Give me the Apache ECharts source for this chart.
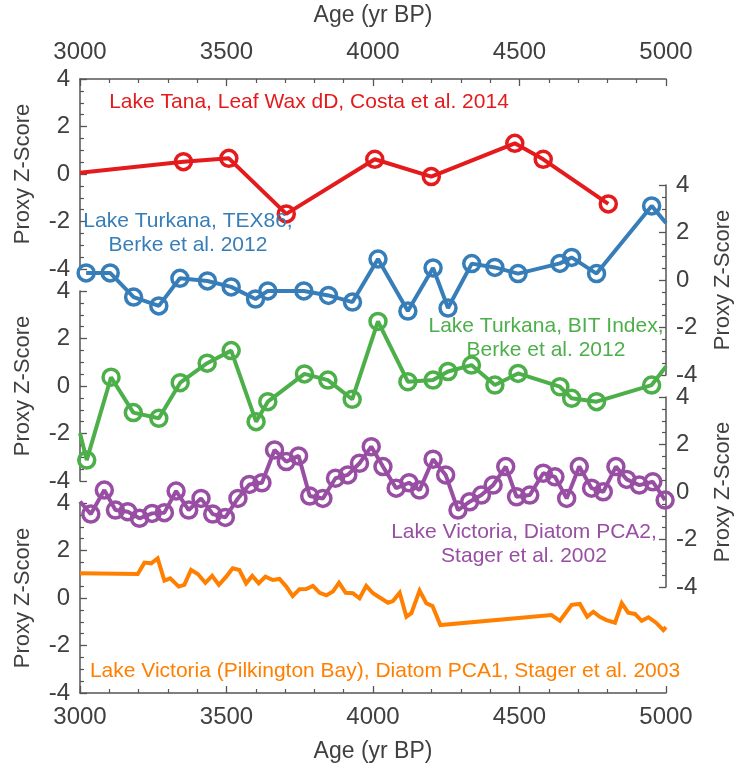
<!DOCTYPE html>
<html><head><meta charset="utf-8">
<script src="https://cdn.jsdelivr.net/npm/echarts@6.0.0/dist/echarts.min.js"></script>
<style>html,body{margin:0;padding:0;background:#fff}#c{width:742px;height:771px}</style>
</head><body><div id="c"></div>
<script>
// ---- data ----
const xTickLabels = [3000, 3500, 4000, 4500, 5000];
const yTickLabels = [-4, -2, 0, 2, 4];
const seriesNames = [
  'Lake Tana, Leaf Wax dD, Costa et al. 2014',
  'Lake Turkana, TEX86,\nBerke et al. 2012',
  'Lake Turkana, BIT Index,\nBerke et al. 2012',
  'Lake Victoria, Diatom PCA2,\nStager et al. 2002',
  'Lake Victoria (Pilkington Bay), Diatom PCA1, Stager et al. 2003'
];
const tanaAge = [3000, 3353, 3508, 3704, 4006, 4199, 4484, 4581, 4803];
const tanaZ = [0.05, 0.52, 0.66, -1.68, 0.62, -0.11, 1.29, 0.62, -1.26];
const tex86Age = [3021, 3103, 3183, 3269, 3341, 3435, 3516, 3599, 3641, 3764, 3848, 3930, 4017, 4119, 4205, 4256, 4337, 4416, 4495, 4638, 4678, 4763, 4951, 5000];
const tex86Z = [0.30, 0.30, -0.72, -1.09, 0.07, -0.04, -0.29, -0.80, -0.46, -0.46, -0.65, -0.93, 0.88, -1.31, 0.51, -1.18, 0.69, 0.53, 0.27, 0.70, 0.95, 0.27, 3.12, 2.40];
const bitAge = [3000, 3023, 3106, 3182, 3269, 3342, 3434, 3516, 3601, 3641, 3766, 3846, 3929, 4017, 4119, 4205, 4256, 4336, 4416, 4495, 4638, 4678, 4763, 4951, 5000];
const bitZ = [-1.99, -3.12, 0.37, -1.12, -1.36, 0.14, 0.96, 1.49, -1.50, -0.66, 0.51, 0.25, -0.56, 2.72, 0.18, 0.25, 0.61, 0.88, 0.04, 0.53, -0.03, -0.52, -0.66, 0.04, 0.82];
const pca2Age = [3000, 3037, 3083, 3121, 3163, 3203, 3246, 3288, 3328, 3371, 3413, 3453, 3496, 3539, 3578, 3621, 3664, 3704, 3746, 3784, 3829, 3872, 3914, 3954, 3994, 4034, 4079, 4123, 4159, 4205, 4248, 4290, 4330, 4370, 4410, 4453, 4490, 4535, 4581, 4621, 4661, 4704, 4746, 4786, 4829, 4866, 4909, 4955, 4997];
const pca2Z = [-0.40, -0.93, 0.08, -0.76, -0.83, -1.11, -0.90, -0.87, 0.04, -0.76, -0.27, -0.93, -1.07, -0.27, 0.32, 0.39, 1.77, 1.28, 1.52, -0.17, -0.27, 0.58, 0.72, 1.21, 1.91, 1.07, 0.16, 0.39, 0.08, 1.38, 0.72, -0.76, -0.41, -0.13, 0.29, 1.07, -0.20, -0.13, 0.79, 0.64, -0.27, 1.07, 0.16, 0.01, 1.07, 0.53, 0.29, 0.43, -0.34];
const pca1Age = [3000, 3197, 3220, 3243, 3265, 3288, 3308, 3337, 3356, 3379, 3402, 3428, 3451, 3474, 3499, 3521, 3544, 3567, 3588, 3610, 3633, 3658, 3681, 3704, 3726, 3749, 3772, 3795, 3818, 3841, 3863, 3884, 3907, 3931, 3954, 3977, 4000, 4023, 4051, 4068, 4091, 4114, 4131, 4159, 4182, 4203, 4230, 4609, 4638, 4678, 4706, 4731, 4752, 4774, 4797, 4826, 4849, 4871, 4894, 4917, 4940, 4966, 4991, 5000];
const pca1Z = [1.04, 1.01, 1.49, 1.46, 1.67, 0.73, 0.83, 0.48, 0.55, 1.18, 1.01, 0.64, 0.93, 0.55, 0.90, 1.25, 1.18, 0.62, 0.93, 0.62, 0.90, 0.76, 0.80, 0.48, 0.08, 0.37, 0.38, 0.51, 0.22, 0.11, 0.27, 0.64, 0.22, 0.20, -0.01, 0.51, 0.20, 0.02, -0.20, -0.13, 0.22, -0.79, -0.64, 0.31, -0.22, -0.34, -1.14, -0.72, -0.96, -0.29, -0.25, -0.79, -0.58, -0.79, -0.93, -1.04, -0.22, -0.62, -0.67, -0.96, -0.81, -1.04, -1.35, -1.23];
// points at the plot edge drawn without a circle
const tanaEdge = [0], tex86Edge = [23], bitEdge = [0, 24], pca2Edge = [0];

// ---- layout / style ----
const COLORS = ['#e41a1c', '#377eb8', '#4daf4a', '#984ea3', '#ff7f00'];
const FONT = '"Liberation Sans", Arial, Helvetica, sans-serif';
const AX = '#555555', TXT = '#404040';
const LEFT = 80, WIDTH = 586, H = 190;
const TOPS = [79, 185, 291, 397, 503];

const grids = TOPS.map(t => ({left: LEFT, width: WIDTH, top: t, height: H, outerBoundsMode: 'none', containLabel: false}));

const xAxes = TOPS.map((t, i) => {
  const vis = (i === 0 || i === 4);
  return {
    type: 'value', gridIndex: i, min: xTickLabels[0], max: xTickLabels[xTickLabels.length - 1], interval: 500,
    position: i === 0 ? 'top' : 'bottom', show: vis,
    name: vis ? 'Age (yr BP)' : '', nameLocation: 'middle', nameGap: i === 0 ? 52 : 47,
    nameTextStyle: {fontSize: 23, color: TXT, fontFamily: FONT},
    axisLine: {show: true, onZero: false, lineStyle: {color: AX, width: 1.5}},
    axisTick: {show: true, inside: true, length: 7, lineStyle: {color: AX, width: 1.3}},
    minorTick: {show: true, splitNumber: 5, length: 4, lineStyle: {color: AX, width: 1.2}},
    axisLabel: {show: true, fontSize: 24, color: TXT, fontFamily: FONT, margin: i === 0 ? 15 : 12, formatter: v => String(v)},
    splitLine: {show: false}, minorSplitLine: {show: false}
  };
});

const yAxes = TOPS.map((t, i) => {
  const right = (i % 2 === 1);
  return {
    type: 'value', gridIndex: i, min: yTickLabels[0], max: yTickLabels[yTickLabels.length - 1], interval: 2,
    position: right ? 'right' : 'left',
    name: 'Proxy Z-Score', nameLocation: 'middle', nameRotate: 90, nameGap: 46,
    nameTextStyle: {fontSize: 22, color: TXT, fontFamily: FONT},
    axisLine: {show: true, onZero: false, lineStyle: {color: AX, width: 1.5}},
    axisTick: {show: true, inside: true, length: 7, lineStyle: {color: AX, width: 1.3}},
    minorTick: {show: true, splitNumber: 4, length: 4, lineStyle: {color: AX, width: 1.2}},
    axisLabel: {show: true, fontSize: 24, color: TXT, fontFamily: FONT, margin: 10, formatter: v => String(v)},
    splitLine: {show: false}, minorSplitLine: {show: false}
  };
});

function markerSeries(i, ages, zs, edge) {
  const c = COLORS[i];
  return {
    type: 'line', xAxisIndex: i, yAxisIndex: i,
    data: ages.map((a, k) => edge.includes(k) ? {value: [a, zs[k]], symbol: 'none'} : [a, zs[k]]),
    symbol: 'circle', symbolSize: 16, showSymbol: true, showAllSymbol: true,
    lineStyle: {color: c, width: 4},
    itemStyle: {color: 'rgba(255,255,255,0)', borderColor: c, borderWidth: 3.5},
    emphasis: {disabled: true}, clip: true, z: 2 + i
  };
}

const series = [
  markerSeries(0, tanaAge, tanaZ, tanaEdge),
  markerSeries(1, tex86Age, tex86Z, tex86Edge),
  markerSeries(2, bitAge, bitZ, bitEdge),
  markerSeries(3, pca2Age, pca2Z, pca2Edge),
  {
    type: 'line', xAxisIndex: 4, yAxisIndex: 4,
    data: pca1Age.map((a, k) => [a, pca1Z[k]]),
    symbol: 'none', showSymbol: false,
    lineStyle: {color: COLORS[4], width: 4, join: 'miter'},
    emphasis: {disabled: true}, clip: true, z: 6
  }
];

const labelPos = [[309, 102], [188, 233], [546, 338], [524, 544], [385, 671]];
const graphic = seriesNames.map((s, i) => ({
  type: 'text', z: 100,
  style: {
    text: s, x: labelPos[i][0], y: labelPos[i][1], fill: COLORS[i],
    font: '21px ' + FONT, align: 'center', verticalAlign: 'middle', lineHeight: 24
  }
}));

const chart = echarts.init(document.getElementById('c'), null, {renderer: 'canvas'});
chart.setOption({
  animation: false, backgroundColor: '#ffffff',
  grid: grids, xAxis: xAxes, yAxis: yAxes, series: series, graphic: graphic,
  tooltip: {show: false}
});
</script></body></html>
